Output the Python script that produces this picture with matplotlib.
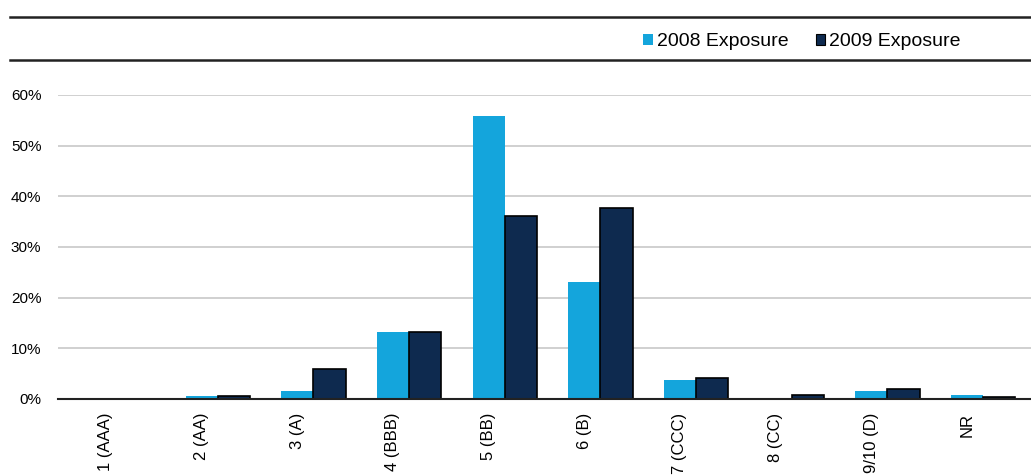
import numpy as np
from matplotlib import pyplot as plt
from matplotlib.lines import Line2D
from matplotlib.patches import Patch

categories = ['1 (AAA)', '2 (AA)', '3 (A)', '4 (BBB)', '5 (BB)', '6 (B)',
              '7 (CCC)', '8 (CC)', '9/10 (D)', 'NR']
exp_2008 = [0.0, 0.5, 1.6, 13.2, 55.8, 23.1, 3.8, 0.0, 1.6, 0.8]
exp_2009 = [0.0, 0.5, 5.9, 13.2, 36.1, 37.7, 4.1, 0.8, 2.0, 0.4]
yticks = [0, 10, 20, 30, 40, 50, 60]

light = '#14a5dc'
dark = '#0e2a4f'

plt.rcParams['font.family'] = ['Liberation Sans', 'DejaVu Sans']

fig = plt.figure(figsize=(10.31, 4.75), dpi=100)
ax = fig.add_axes([0.0563, 0.16, 0.9437, 0.64])

x = np.arange(len(categories))
w = 0.335
ax.bar(x - w / 2, exp_2008, w, color=light, linewidth=0, zorder=3)
ax.bar(x + w / 2, exp_2009, w, color=dark, edgecolor='black', linewidth=1.2, zorder=3)

ax.set_ylim(0, 60)
ax.set_xlim(-0.67, 9.5)
ax.set_yticks(yticks)
ax.set_yticklabels([f'{v}%' for v in yticks], fontsize=11)
ax.yaxis.grid(True, color='#c8c8c8', linewidth=1.2, zorder=0)
ax.set_xticks(x - 0.17)
ax.set_xticklabels(categories, rotation=90, fontsize=12, va='top')
ax.tick_params(axis='both', length=0)
ax.tick_params(axis='y', pad=12)
ax.tick_params(axis='x', pad=10)
for s in ['top', 'right', 'left']:
    ax.spines[s].set_visible(False)
ax.spines['bottom'].set_color('#222222')
ax.spines['bottom'].set_linewidth(1.5)
ax.spines['bottom'].set_zorder(4)

# header rules
for yy in [17, 60]:
    fig.add_artist(Line2D([10 / 1031, 1], [1 - yy / 475] * 2, color='#222222', linewidth=1.8))

handles = [Patch(facecolor=light, edgecolor='none'),
           Patch(facecolor=dark, edgecolor='black', linewidth=0.8)]
fig.legend(handles, ['2008 Exposure', '2009 Exposure'], loc='center',
           bbox_to_anchor=(802 / 1031, 1 - 42 / 475), ncol=2, frameon=False,
           fontsize=14, handlelength=0.5, handleheight=0.5, handletextpad=0.2,
           columnspacing=1.4)

fig.savefig('out.png', dpi=100)
